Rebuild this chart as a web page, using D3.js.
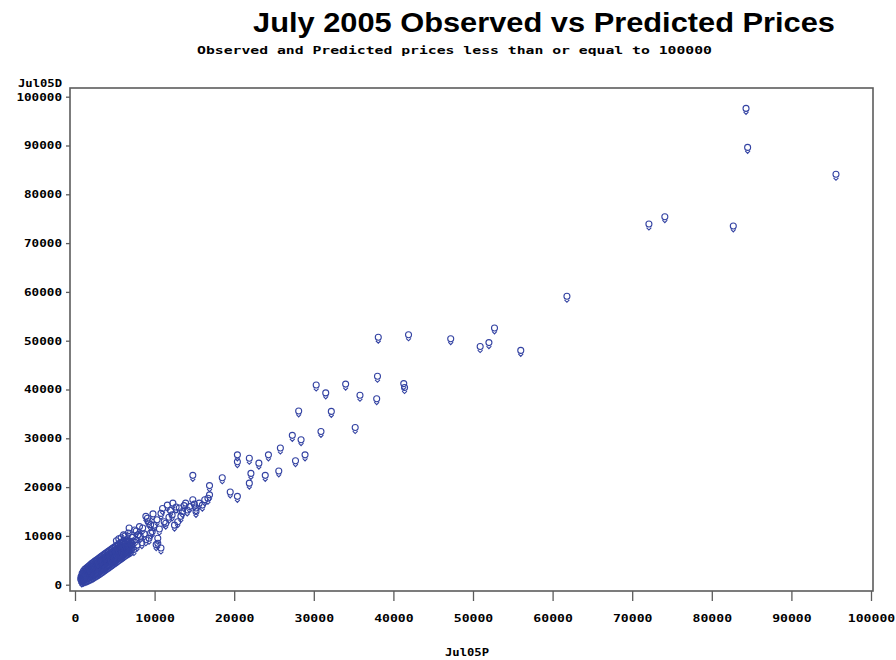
<!DOCTYPE html>
<html>
<head>
<meta charset="utf-8">
<script src="https://cdn.jsdelivr.net/npm/d3@7"></script>
<style>
  html, body { margin: 0; padding: 0; background: #fff; }
  svg { display: block; }
</style>
</head>
<body>
<svg id="chart" width="896" height="660"></svg>
<script>
// Titles and axis captions
const titleText = "July 2005 Observed vs Predicted Prices";
const subtitleText = "Observed and Predicted prices less than or equal to 100000";
const xAxisName = "Jul05P";
const yAxisName = "Jul05D";

// Tick values for both axes
const xTicks = [0, 10000, 20000, 30000, 40000, 50000, 60000, 70000, 80000, 90000, 100000];
const yTicks = [0, 10000, 20000, 30000, 40000, 50000, 60000, 70000, 80000, 90000, 100000];

// [Jul05P, Jul05D] pairs: the dense band of low-priced items
const lowRange = [
  [720,830],[760,1310],[810,1060],[850,450],[870,1580],[900,2050],[940,880],[990,1390],[1000,550],
  [1030,1930],[1060,2480],[1100,650],[1110,1120],[1160,1690],[1190,2270],[1230,2860],[1250,720],
  [1280,1240],[1320,1810],[1350,2490],[1390,3050],[1400,800],[1440,1420],[1470,2010],[1500,2680],
  [1550,3270],[1550,900],[1590,1530],[1620,2190],[1660,2870],[1700,3480],[1700,1000],[1740,1710],
  [1780,2380],[1810,3060],[1850,3690],[1850,1120],[1900,1880],[1930,2590],[1970,3270],[2010,3900],
  [2000,1250],[2060,2040],[2090,2720],[2130,3420],[2150,1380],[2170,4110],[2210,2230],[2250,2930],
  [2290,3630],[2300,1500],[2330,4300],[2380,2390],[2410,3110],[2450,1650],[2450,3820],[2490,4520],
  [2540,2580],[2580,3290],[2600,1800],[2610,4010],[2660,4700],[2700,2760],[2740,3480],[2750,1950],
  [2780,4190],[2820,4920],[2870,2950],[2900,2100],[2900,3680],[2940,4390],[2990,5120],[3030,3140],
  [3050,2250],[3070,3870],[3110,4590],[3150,5310],[3200,3320],[3200,2400],[3240,4060],[3280,4780],
  [3320,5520],[3350,2580],[3370,3510],[3410,4250],[3450,4980],[3490,5730],[3500,2750],[3540,3600],
  [3580,4440],[3620,5180],[3650,2920],[3660,5920],[3710,3790],[3750,4640],[3790,5370],[3800,3100],
  [3830,6130],[3880,3980],[3920,4830],[3950,3280],[3960,5570],[4010,6330],[4050,4180],[4090,5030],
  [4100,3450],[4140,5780],[4180,6540],[4230,4370],[4250,3620],[4270,5220],[4310,5980],[4360,6750],
  [4400,4570],[4400,3800],[4450,5420],[4490,6180],[4540,6950],[4550,3980],[4580,4770],[4620,5630],
  [4670,6390],[4700,4150],[4710,7160],[4760,4970],[4800,5830],[4850,6590],[4850,4320],[4890,7370],
  [4940,5170],[4990,6040],[5000,4500],[5030,6800],[5080,7580],[5130,5390],[5150,4680],[5170,6250],
  [5220,7010],[5270,7790],[5300,4850],[5320,5600],[5370,6460],[5410,7230],[5450,5020],[5460,8000],
  [5520,5820],[5570,6680],[5600,5200],[5620,7450],[5670,8220],[5730,6040],[5750,5380],[5780,6900],
  [5830,7670],[5890,8440],[5900,5550],[5950,6270],[6000,7130],[6050,5720],[6060,7900],[6120,8680],
  [6180,6500],[6200,5900],[6240,7360],[6300,8140],[6350,6080],[6370,6740],[6430,7600],[6500,8380],
  [6500,6250],[6580,6990],[6650,7850],[6650,6400],[6720,8620],[6800,7230],[6800,6550],[6880,8100],
  [6950,6700],[6960,7480],[7050,8350],[7100,6850],[7150,7700],[7300,8600]
];

// [Jul05P, Jul05D] pairs: loose scatter between 5,000 and 20,000
const midRange = [
  [5200,8700],[5500,9100],[5800,9300],[6100,9900],[6300,9700],[6500,8900],[6700,10300],[6800,11300],
  [7000,8600],[7200,9400],[7400,6900],[7500,10900],[7600,8900],[7700,10700],[7800,7800],[7900,9900],
  [8100,11600],[8200,9600],[8400,8300],[8500,11300],[8700,10100],[8900,8900],[8900,13700],[9100,13300],
  [9200,12600],[9300,9200],[9500,10300],[9500,12000],[9700,10600],[9800,14200],[9950,11900],
  [10200,7900],[10300,13000],[10400,8200],[10400,9200],[10600,11100],[10800,7200],[10800,14300],
  [11000,15300],[11200,12600],[11400,12300],[11600,16000],[11800,13500],[12000,14900],[12200,14000],
  [12300,16400],[12500,11900],[12700,15600],[12900,12600],[13100,15400],[13300,13700],[13500,14700],
  [13700,15900],[13900,16400],[14100,15000],[14400,15700],[14800,17100],[15000,16200],[15200,15400],
  [15200,14700],[15600,16400],[16000,16000],[16300,17100],[16700,17400]
];

// [Jul05P, Jul05D] pairs: higher-priced items
const highRange = [
  [14800,22100],[16900,20000],[16900,18100],[18500,21600],[19500,18700],[20400,17800],[20400,26300],
  [20400,24900],[21900,25600],[21900,20500],[22100,22500],[23100,24600],[23900,22100],[24300,26300],
  [25600,23000],[25800,27700],[27300,30300],[27700,25100],[28100,35300],[28400,29400],[28900,26300],
  [30300,40600],[30900,31100],[31500,39000],[32200,35200],[34000,40800],[35200,31900],[35800,38500],
  [37900,37800],[38000,42400],[38100,50400],[41300,40900],[41400,40100],[41900,50900],[47200,50100],
  [50900,48500],[52000,49300],[52700,52300],[56000,47700],[61800,58800],[72100,73600],[74100,75100],
  [82700,73200],[84300,97300],[84500,89300],[95600,83800]
];

const allPoints = lowRange.concat(midRange, highRange);

const svg = d3.select("#chart");
const frame = { left: 70, right: 873, top: 88, bottom: 591 };

const x = d3.scaleLinear().domain([0, 100000]).range([75, 871]);
const y = d3.scaleLinear().domain([0, 100000]).range([584.7, 96.7]);

const labelFont = "'DejaVu Sans Mono', 'Liberation Mono', monospace";

// Title and subtitle
svg.append("text")
  .attr("x", 253).attr("y", 32)
  .attr("font-family", "'Liberation Sans', Arial, sans-serif")
  .attr("font-weight", "bold")
  .attr("font-size", 28)
  .attr("textLength", 582)
  .attr("lengthAdjust", "spacingAndGlyphs")
  .attr("fill", "#000")
  .text(titleText);

svg.append("text")
  .attr("x", 197).attr("y", 54)
  .attr("font-family", labelFont)
  .attr("font-weight", "bold")
  .attr("font-size", 10)
  .attr("textLength", 515)
  .attr("lengthAdjust", "spacingAndGlyphs")
  .attr("fill", "#000")
  .text(subtitleText);

// Plot frame
svg.append("rect")
  .attr("x", frame.left).attr("y", frame.top)
  .attr("width", frame.right - frame.left)
  .attr("height", frame.bottom - frame.top)
  .attr("fill", "none")
  .attr("stroke", "#5c5c5c")
  .attr("stroke-width", 1.6);

function styleLabels(sel, perChar) {
  sel.attr("font-family", labelFont)
    .attr("font-weight", "bold")
    .attr("font-size", 10.5)
    .attr("fill", "#000")
    .each(function(d) {
      d3.select(this)
        .attr("textLength", String(d).length * perChar)
        .attr("lengthAdjust", "spacingAndGlyphs");
    });
}

// Y axis
const yAxis = svg.append("g")
  .attr("transform", `translate(${frame.left},0)`)
  .call(d3.axisLeft(y).tickValues(yTicks).tickFormat(d3.format("d")).tickSize(4).tickPadding(4));
yAxis.select(".domain").remove();
yAxis.selectAll(".tick line").attr("stroke", "#5c5c5c").attr("stroke-width", 1.3);
styleLabels(yAxis.selectAll(".tick text").attr("x", -8), 7.6);

// X axis
const xAxis = svg.append("g")
  .attr("transform", `translate(0,${frame.bottom})`)
  .call(d3.axisBottom(x).tickValues(xTicks).tickFormat(d3.format("d")).tickSize(10).tickPadding(16));
xAxis.select(".domain").remove();
xAxis.selectAll(".tick line").attr("stroke", "#5c5c5c").attr("stroke-width", 1.3);
styleLabels(xAxis.selectAll(".tick text").attr("y", 31).attr("dy", null), 7.9);

// Axis captions
svg.append("text")
  .attr("x", 62).attr("y", 87)
  .attr("text-anchor", "end")
  .attr("font-family", labelFont)
  .attr("font-weight", "bold")
  .attr("font-size", 10)
  .attr("textLength", 44)
  .attr("lengthAdjust", "spacingAndGlyphs")
  .attr("fill", "#000")
  .text(yAxisName);

svg.append("text")
  .attr("x", 467).attr("y", 656)
  .attr("text-anchor", "middle")
  .attr("font-family", labelFont)
  .attr("font-weight", "bold")
  .attr("font-size", 10.5)
  .attr("textLength", 44)
  .attr("lengthAdjust", "spacingAndGlyphs")
  .attr("fill", "#000")
  .text(xAxisName);

// Plot symbols: an open circle stacked over a small chevron
const glyph = "M3,-1.5A3,3 0 1,1 -3,-1.5A3,3 0 1,1 3,-1.5M-2.4,2L0,4.5L2.4,2";
svg.append("g")
  .selectAll("path")
  .data(allPoints)
  .join("path")
  .attr("transform", d => `translate(${x(d[0])},${y(d[1])})`)
  .attr("d", glyph)
  .attr("fill", "none")
  .attr("stroke", "#3342a2")
  .attr("stroke-width", 1.1);
</script>
</body>
</html>
